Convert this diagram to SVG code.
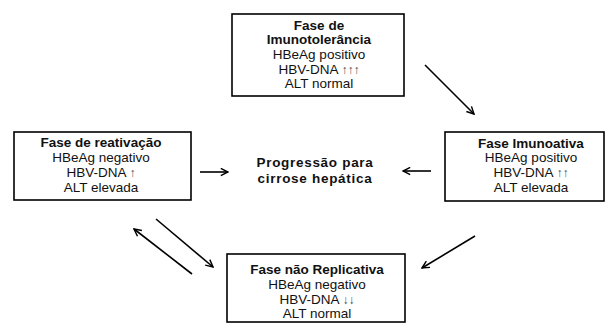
<svg xmlns="http://www.w3.org/2000/svg" width="612" height="324" viewBox="0 0 612 324">
<style>
.box{fill:#fff;stroke:#000;stroke-width:1.6}
text{font-family:"Liberation Sans",Arial,sans-serif;font-size:13.5px;fill:#111;text-anchor:middle}
.b{font-weight:bold}
.ar{font-size:12px;fill:#444}
.c{stroke:#000;stroke-width:1.6;fill:none;marker-end:url(#h)}
</style>
<defs>
<marker id="h" viewBox="0 0 10 10" refX="9" refY="5" markerWidth="9" markerHeight="9" markerUnits="userSpaceOnUse" orient="auto">
<path d="M1,1 L9,5 L1,9" fill="none" stroke="#000" stroke-width="1.6"/>
</marker>
</defs>
<rect width="612" height="324" fill="#fff"/>
<g id="imunotolerancia">
<rect class="box" x="232" y="14" width="172" height="82"/>
<text x="319" y="30" class="b">Fase de</text>
<text x="319" y="44" class="b">Imunotolerância</text>
<text x="319" y="59">HBeAg positivo</text>
<text x="319" y="74">HBV-DNA <tspan class="ar">↑↑↑</tspan></text>
<text x="319" y="88">ALT normal</text>
</g>
<g id="reativacao">
<rect class="box" x="14" y="132" width="177" height="68"/>
<text x="101" y="147" class="b">Fase de reativação</text>
<text x="101" y="162">HBeAg negativo</text>
<text x="101" y="177">HBV-DNA <tspan class="ar">↑</tspan></text>
<text x="101" y="192">ALT elevada</text>
</g>
<g id="imunoativa">
<rect class="box" x="445" y="132" width="159" height="69"/>
<text x="531" y="148" class="b">Fase Imunoativa</text>
<text x="531" y="162">HBeAg positivo</text>
<text x="531" y="177">HBV-DNA <tspan class="ar">↑↑</tspan></text>
<text x="531" y="192">ALT elevada</text>
</g>
<g id="naoreplicativa">
<rect class="box" x="227" y="254" width="178" height="68"/>
<text x="317" y="274" class="b">Fase não Replicativa</text>
<text x="317" y="289">HBeAg negativo</text>
<text x="317" y="304">HBV-DNA <tspan class="ar">↓↓</tspan></text>
<text x="317" y="318">ALT normal</text>
</g>
<g id="cirrose">
<text x="315" y="167" class="b" letter-spacing="0.7">Progressão para</text>
<text x="315" y="183" class="b" letter-spacing="0.7">cirrose hepática</text>
</g>
<g id="connectors">
<path class="c" d="M425,65 L474,114"/>
<path class="c" d="M200,172 L228,172"/>
<path class="c" d="M431,171 L403,171"/>
<path class="c" d="M156,219 L213,267"/>
<path class="c" d="M192,274 L134,229"/>
<path class="c" d="M475,236 L422,268"/>
</g>
</svg>
